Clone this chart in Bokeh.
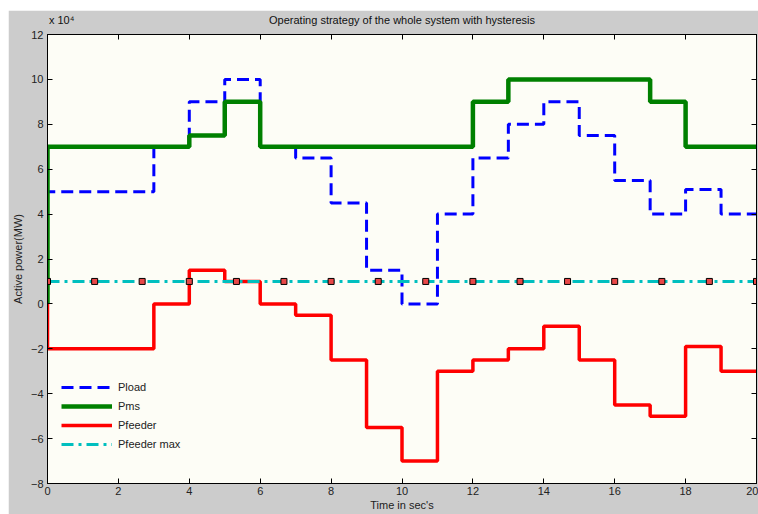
from bokeh.plotting import figure
from bokeh.models import Range1d, LinearAxis, FixedTicker, CustomJSTickFormatter
from bokeh.embed import file_html
from bokeh.resources import INLINE

# Values in units of 1e4 MW (axis shows "x 10^4")
t_load = [0, 0, 3, 4, 5, 6, 7, 8, 9, 10, 11, 12, 13, 14, 15, 16, 17, 18, 19, 20]
p_load = [0, 5, 7, 9, 10, 7, 6.5, 4.5, 1.5, 0, 4, 6.5, 8, 9, 7.5, 5.5, 4, 5.1, 4, 4]

t_ms = [0, 0, 4, 5, 6, 12, 13, 17, 18, 20]
p_ms = [0, 7, 7.5, 9, 7, 9, 10, 9, 7, 7]

t_feeder = [0, 0, 3, 4, 5, 6, 7, 8, 9, 10, 11, 12, 13, 14, 15, 16, 17, 18, 19, 20]
p_feeder = [0, -2, 0, 1.5, 1, 0, -0.5, -2.5, -5.5, -7, -3, -2.5, -2, -1, -2.5, -4.5, -5, -1.9, -3, -3]

t_fmax = [0, 20]
p_fmax = [1, 1]

t_marks = [0, 1.33, 2.67, 4, 5.33, 6.67, 8, 9.33, 10.67, 12, 13.33, 14.67, 16, 17.33, 18.67, 20]
p_marks = [1] * len(t_marks)

x_ticks = [0, 2, 4, 6, 8, 10, 12, 14, 16, 18, 20]
y_ticks = [-8, -6, -4, -2, 0, 2, 4, 6, 8, 10, 12]

TITLE = "Operating strategy of the whole system with hysteresis"
SCALE = "x 10\u2074"

FONT = "Liberation Sans"

p = figure(width=750, height=504, margin=(10, 0, 0, 8),
           output_backend="svg", toolbar_location=None,
           x_range=Range1d(0, 20), y_range=Range1d(-8, 12),
           min_border_left=39, min_border_right=2, min_border_top=23, min_border_bottom=31)

p.background_fill_color = "#fdfdf6"
p.border_fill_color = "#cccccc"
p.outline_line_color = "black"
p.outline_line_width = 1
p.grid.visible = False

for ax in (p.xaxis[0], p.yaxis[0]):
    ax.major_tick_in = 5
    ax.major_tick_out = 0
    ax.minor_tick_line_color = None
    ax.axis_line_color = "black"
    ax.major_label_text_font = FONT
    ax.major_label_text_font_size = "11px"
    ax.major_label_text_color = "#222222"
    ax.axis_label_text_font = FONT
    ax.axis_label_text_font_size = "11px"
    ax.axis_label_text_font_style = "normal"
    ax.axis_label_text_color = "#222222"

p.xaxis[0].ticker = FixedTicker(ticks=x_ticks)
p.yaxis[0].ticker = FixedTicker(ticks=y_ticks)
p.xaxis[0].axis_label = "Time in sec's"
p.yaxis[0].axis_label = "Active power(MW)"
p.xaxis[0].major_label_standoff = 3
p.xaxis[0].axis_label_standoff = 1
p.yaxis[0].major_label_standoff = 4
p.yaxis[0].axis_label_standoff = 4

# tick marks on top and right edges (no labels)
blank = CustomJSTickFormatter(code="return ''")
top = LinearAxis(ticker=FixedTicker(ticks=x_ticks), formatter=blank)
right = LinearAxis(ticker=FixedTicker(ticks=y_ticks), formatter=blank)
for ax in (top, right):
    ax.major_tick_in = 5
    ax.major_tick_out = 0
    ax.minor_tick_line_color = None
    ax.axis_line_color = "black"
    ax.major_label_standoff = 0
p.add_layout(top, "above")
p.add_layout(right, "right")

# row above the frame: exponent note at the left, title centred
head = LinearAxis(ticker=FixedTicker(ticks=[0.4, 10]),
                  major_label_overrides={0.4: SCALE, 10: TITLE})
head.axis_line_color = None
head.major_tick_line_color = None
head.minor_tick_line_color = None
head.major_label_standoff = 3
head.major_label_text_font = FONT
head.major_label_text_font_size = "11px"
head.major_label_text_color = "#111111"
p.add_layout(head, "above")

p.step(t_load, p_load, mode="after", line_color="#0000ff", line_width=3,
       line_dash="12 6", legend_label="Pload")
p.step(t_ms, p_ms, mode="after", line_color="#008000", line_width=4.5,
       legend_label="Pms")
p.step(t_feeder, p_feeder, mode="after", line_color="#ff0000", line_width=3.5,
       legend_label="Pfeeder")
p.line(t_fmax, p_fmax, line_color="#00bfbf", line_width=3,
       line_dash="12 5 3 5", legend_label="Pfeeder max")
p.scatter(t_marks, p_marks, marker="square", size=6, fill_color="#e84848",
          line_color="black", line_width=1)

leg = p.legend[0]
leg.location = (14, 32)
leg.border_line_color = None
leg.background_fill_alpha = 0
leg.padding = 0
leg.margin = 0
leg.spacing = 5
leg.glyph_width = 51
leg.glyph_height = 14
leg.label_height = 14
leg.label_standoff = 6
leg.label_text_font = FONT
leg.label_text_font_size = "11px"
leg.label_text_color = "#222222"

open("out.html", "w").write(file_html(p, INLINE))
